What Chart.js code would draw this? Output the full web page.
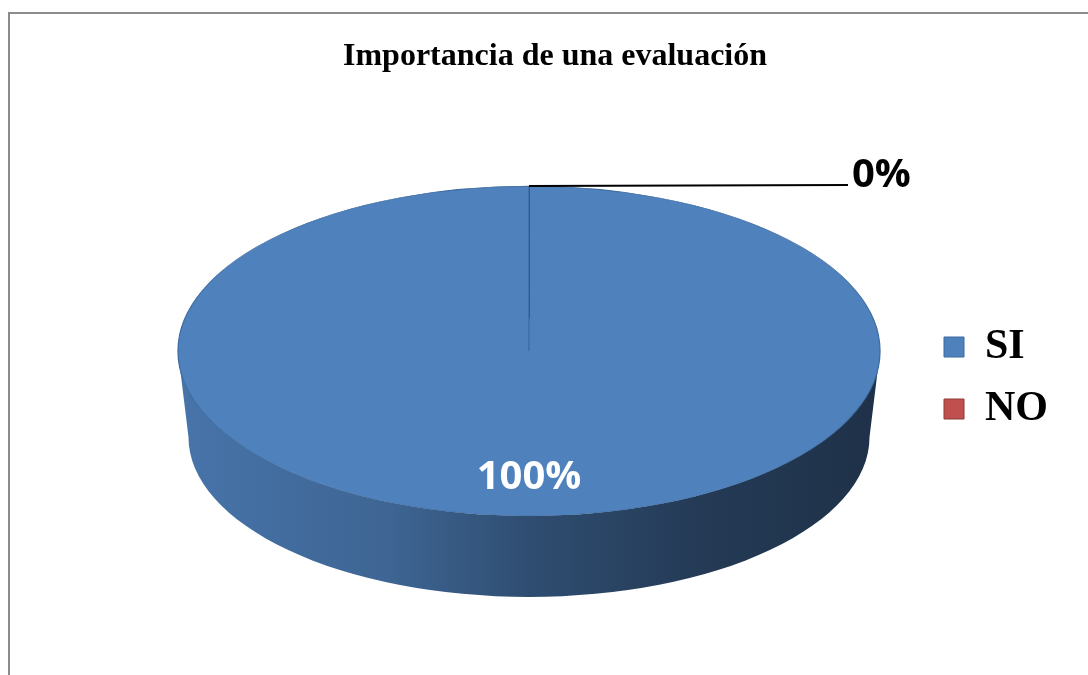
<!DOCTYPE html>
<html>
<head>
<meta charset="utf-8">
<title>Importancia de una evaluación</title>
<script src="https://cdn.jsdelivr.net/npm/chart.js@4.4.1/dist/chart.umd.min.js"></script>
<style>
  html, body { margin: 0; padding: 0; background: #fff; overflow: hidden; }
  #wrap { position: relative; width: 1088px; height: 675px; }
  #frame {
    position: absolute; left: 8px; top: 12px; right: -10px; bottom: -10px;
    border-top: 2px solid #8c8c8c; border-left: 2px solid #8c8c8c;
    pointer-events: none;
  }
</style>
</head>
<body>
<div id="wrap">
  <canvas id="chart" width="1088" height="675"></canvas>
  <div id="frame"></div>
</div>
<script>
// Encuesta: importancia de una evaluación
const answers = ["SI", "NO"];
const percentages = [100, 0];
const sliceColors = ["#4F81BD", "#C0504D"];
const sliceBorders = ["#3D6A9E", "#8E3B39"];

const shade = (hex, f) => {
  const n = parseInt(hex.slice(1), 16);
  const c = [(n >> 16) & 255, (n >> 8) & 255, n & 255].map((v) => Math.round(v * f));
  return `rgb(${c[0]}, ${c[1]}, ${c[2]})`;
};

// part of [start, end] that faces the viewer (canvas angles 0..PI)
const frontSpan = (start, end) => {
  for (const k of [-2, 0, 2]) {
    const a = Math.max(start + k * Math.PI, 0);
    const b = Math.min(end + k * Math.PI, Math.PI);
    if (b > a) return [a, b];
  }
  return null;
};

// squashes the pie into an ellipse and gives it a side wall
const pie3d = {
  id: "pie3d",
  geometry(chart) {
    const o = chart.options.plugins.pie3d;
    const { x, y, outerRadius } = chart.getDatasetMeta(0).data[0];
    return {
      cx: x, cy: y, r: outerRadius,
      fx: x + o.shiftX, fy: y - o.lift,
      rx: outerRadius * o.scaleX, ry: outerRadius * o.scaleY,
      depth: o.depth, shrink: o.bottomShrink,
    };
  },
  beforeDatasetsDraw(chart) {
    const ctx = chart.ctx;
    const g = this.geometry(chart);
    const arcs = chart.getDatasetMeta(0).data;

    arcs.forEach((arc, i) => {
      const span = frontSpan(arc.startAngle, arc.endAngle);
      if (!span) return;
      const base = sliceColors[i];
      const grad = ctx.createLinearGradient(g.fx - g.rx, 0, g.fx + g.rx, 0);
      grad.addColorStop(0, shade(base, 0.9));
      grad.addColorStop(0.3, shade(base, 0.78));
      grad.addColorStop(0.5, shade(base, 0.6));
      grad.addColorStop(0.75, shade(base, 0.45));
      grad.addColorStop(1, shade(base, 0.38));
      ctx.save();
      ctx.beginPath();
      ctx.ellipse(g.fx, g.fy, g.rx, g.ry, 0, span[0], span[1]);
      ctx.ellipse(g.fx, g.fy + g.depth, g.rx * g.shrink, g.ry * g.shrink, 0, span[1], span[0], true);
      ctx.closePath();
      ctx.fillStyle = grad;
      ctx.fill();
      ctx.restore();
    });

    ctx.save();
    ctx.translate(g.fx, g.fy);
    ctx.scale(g.rx / g.r, g.ry / g.r);
    ctx.translate(-g.cx, -g.cy);
  },
  afterDatasetsDraw(chart) {
    const ctx = chart.ctx;
    ctx.restore();
    const g = this.geometry(chart);
    const o = chart.options.plugins.pie3d;
    const arcs = chart.getDatasetMeta(0).data;
    const total = percentages.reduce((s, v) => s + v, 0);

    arcs.forEach((arc, i) => {
      const text = Math.round((percentages[i] / total) * 100) + "%";
      ctx.save();
      ctx.font = "bold 40px 'Open Sans'";
      if (percentages[i] > 0) {
        const mid = (arc.startAngle + arc.endAngle) / 2;
        const px = g.fx + Math.cos(mid) * g.rx * o.labelRadius;
        const py = g.fy + Math.sin(mid) * g.ry * o.labelRadius;
        ctx.fillStyle = "#ffffff";
        ctx.textAlign = "center";
        ctx.textBaseline = "middle";
        ctx.fillText(text, px, py);
      } else {
        // empty slice: a thin spoke on the face plus an outside label
        const a = arc.startAngle;
        const ex = g.fx + Math.cos(a) * g.rx;
        const ey = g.fy + Math.sin(a) * g.ry;
        ctx.strokeStyle = sliceBorders[i];
        ctx.lineWidth = 1;
        ctx.beginPath();
        ctx.moveTo(ex + 0.5, ey);
        ctx.lineTo(g.fx + 0.5 + Math.cos(a) * g.rx * 0.2, g.fy + Math.sin(a) * g.ry * 0.2);
        ctx.stroke();
        ctx.strokeStyle = "#000000";
        ctx.lineWidth = 2;
        ctx.beginPath();
        ctx.moveTo(ex, ey);
        ctx.lineTo(ex + o.leader, ey - 1);
        ctx.stroke();
        ctx.fillStyle = "#000000";
        ctx.textAlign = "left";
        ctx.textBaseline = "alphabetic";
        ctx.fillText(text, ex + o.leader + 4, ey + 1);
      }
      ctx.restore();
    });
  },
};

new Chart(document.getElementById("chart"), {
  type: "pie",
  data: {
    labels: answers,
    datasets: [
      {
        data: percentages,
        backgroundColor: sliceColors,
        borderColor: sliceBorders,
        borderWidth: 1,
      },
    ],
  },
  options: {
    responsive: false,
    animation: false,
    events: [],
    layout: { padding: { left: 52, right: 30, top: 0, bottom: 1 } },
    plugins: {
      title: {
        display: true,
        text: "Importancia de una evaluación",
        color: "#000000",
        font: { family: "'Liberation Serif'", size: 32, weight: "bold" },
        padding: { top: 38, bottom: 5.6 },
      },
      legend: {
        position: "right",
        fullSize: false,
        labels: {
          color: "#000000",
          font: { family: "'Liberation Serif'", size: 42, weight: "bold" },
          boxWidth: 20,
          boxHeight: 20,
          padding: 20,
        },
      },
      tooltip: { enabled: false },
      pie3d: {
        shiftX: 41,
        lift: 27,
        scaleX: 1.188,
        scaleY: 0.558,
        depth: 86,
        bottomShrink: 0.97,
        labelRadius: 0.77,
        leader: 319,
      },
    },
  },
  plugins: [pie3d],
});
</script>
</body>
</html>
